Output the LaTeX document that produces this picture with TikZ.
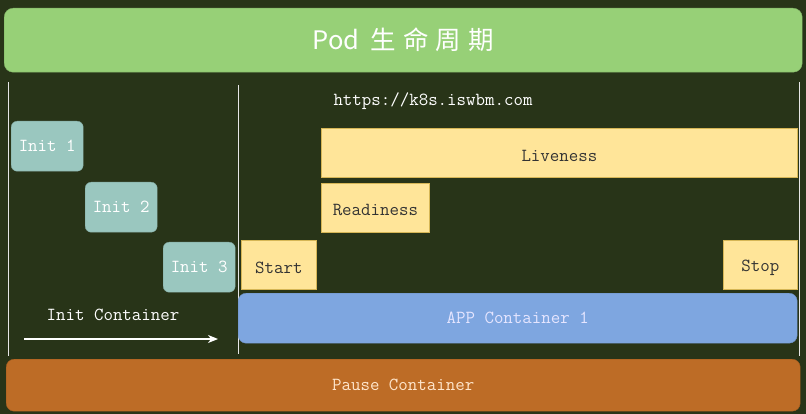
\documentclass[tikz,border=0pt]{standalone}
\usepackage{fontspec}
\newfontfamily\cjk{Noto Sans CJK SC}
\usetikzlibrary{arrows.meta}
\definecolor{bgc}{HTML}{283418}
\definecolor{titlec}{HTML}{97D077}
\definecolor{initc}{HTML}{9AC7BF}
\definecolor{yelc}{HTML}{FFE599}
\definecolor{yelb}{HTML}{D6B656}
\definecolor{bluec}{HTML}{7EA6E0}
\definecolor{blueb}{HTML}{6C8EBF}
\definecolor{pausec}{HTML}{BD6C26}
\definecolor{pausetxt}{HTML}{FFE6CC}
\definecolor{darktxt}{HTML}{333333}
\definecolor{linec}{HTML}{E6E6E6}
\tikzset{
  mono/.style={font=\ttfamily\fontsize{18.4}{20}\selectfont},
  box/.style={anchor=north west, inner sep=0pt, mono},
  initbox/.style={box, fill=initc, draw=initc!85!black, rounded corners=6pt, text=white, minimum width=72pt, minimum height=50pt},
  probe/.style={box, fill=yelc, draw=yelb, line width=0.8pt, minimum height=49pt},
  probetxt/.style={mono, text=darktxt, inner sep=0pt},
  vline/.style={draw=linec, line width=1pt},
}
\begin{document}
\begin{tikzpicture}[x=1pt,y=-1pt]
\fill[bgc] (0,0) rectangle (806,414);
\useasboundingbox (0,0) rectangle (806,414);
% title
\node[box, fill=titlec, draw=titlec!85!black, rounded corners=9pt, minimum width=798pt, minimum height=64pt, text=white, font=\cjk\fontsize{25.5}{30}\selectfont] (title) at (4,8) {Pod\hspace{11pt}生\hspace{7pt}命\hspace{7pt}周\hspace{7pt}期};
% vertical lines
\coordinate (l1a) at (8,82); \coordinate (l1b) at (8,356);
\coordinate (l2a) at (238,85); \coordinate (l2b) at (238,354);
\coordinate (l3a) at (799,82); \coordinate (l3b) at (799,356);
\draw[vline] (l1a) -- (l1b);
\draw[vline] (l2a) -- (l2b);
\draw[vline] (l3a) -- (l3b);
% init containers
\node[initbox] (i1) at (11,121) {Init 1};
\node[initbox] (i2) at (85,182) {Init 2};
\node[initbox] (i3) at (163,242) {Init 3};
\node[text=white, mono] (ic) at (113,315) {Init Container};
\coordinate (aa) at (24,339); \coordinate (ab) at (218,339);
\draw[white, line width=1.2pt, -{Stealth[length=10pt,width=8pt,inset=3pt]}] (aa) -- (ab);
% url
\node[text=white, mono] (url) at (433,101) {https://k8s.iswbm.com};
% probes
\node[probe, minimum width=476pt] (live) at (321,128) {};
\node[probe, minimum width=108pt] (ready) at (321,183) {};
\node[probe, minimum width=75pt] (start) at (241,240) {};
\node[probe, minimum width=74pt] (stop) at (723,240) {};
\node[probetxt] at ([yshift=-3pt]live.center) {Liveness};
\node[probetxt] at ([yshift=-2.5pt]ready.center) {Readiness};
\node[probetxt] at ([yshift=-2.5pt]start.center) {Start};
\node[probetxt] at ([yshift=-2.5pt]stop.center) {Stop};
% app container
\node[box, fill=bluec, draw=blueb, rounded corners=8pt, minimum width=559pt, minimum height=50pt, text=white!90!blue] (app) at (238,293) {APP Container 1};
% pause
\node[box, fill=pausec, draw=pausec!85!black, rounded corners=8pt, minimum width=794pt, minimum height=52pt, text=pausetxt] (pause) at (6,359) {Pause Container};
\end{tikzpicture}
\end{document}
